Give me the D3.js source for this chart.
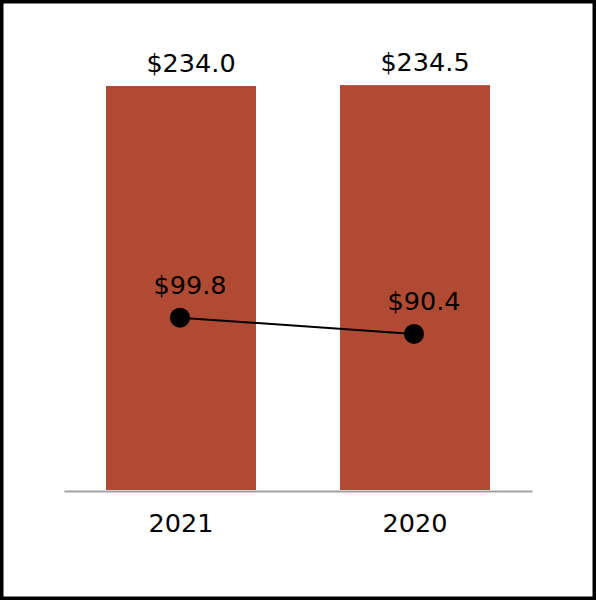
<!DOCTYPE html>
<html>
<head>
<meta charset="utf-8">
<script src="https://cdn.jsdelivr.net/npm/d3@7"></script>
<style>
  html, body { margin: 0; padding: 0; background: #fff; }
  svg { display: block; }
  text { font-family: "DejaVu Sans", sans-serif; fill: #000; }
</style>
</head>
<body>
<script>
const categories = ["2021", "2020"];
const barValues = [234.0, 234.5];
const lineValues = [99.8, 90.4];
const barLabels = ["$234.0", "$234.5"];
const lineLabels = ["$99.8", "$90.4"];

const W = 596, H = 600;
const FS = 25.5;
const svg = d3.select("body").append("svg").attr("width", W).attr("height", H);

svg.append("rect").attr("x", 1.75).attr("y", 1.75).attr("width", W - 3.5).attr("height", H - 3.5)
  .attr("fill", "#fff").attr("stroke", "#000").attr("stroke-width", 3.5);

const x = d3.scaleBand().domain(categories).range([64, 532]).paddingInner(0.359).paddingOuter(0.1795);
const y = d3.scaleLinear().domain([0, 250]).range([490, 490 - 250 * (404 / 234)]);

const data = categories.map((c, i) => ({ c, bar: barValues[i], line: lineValues[i], bl: barLabels[i], ll: lineLabels[i] }));

svg.selectAll("rect.bar").data(data).enter().append("rect").attr("class", "bar")
  .attr("x", d => x(d.c)).attr("width", x.bandwidth())
  .attr("y", d => y(d.bar)).attr("height", d => y(0) - y(d.bar))
  .attr("fill", "#B04A33");

// axis
const xAxis = d3.axisBottom(x).tickSize(0).tickPadding(23);
const ax = svg.append("g").attr("transform", "translate(0,491)").call(xAxis);
ax.select(".domain").attr("stroke", "#a0a0a0").attr("stroke-width", 2);
ax.selectAll("text").attr("font-size", FS).attr("font-family", "DejaVu Sans").attr("fill", "#000");

svg.selectAll("text.bl").data(data).enter().append("text").attr("class", "bl")
  .attr("x", d => x(d.c) + x.bandwidth() / 2 + 10).attr("y", d => y(d.bar) - 14)
  .attr("text-anchor", "middle").attr("font-size", FS).text(d => d.bl);

const line = d3.line().x(d => x(d.c) + x.bandwidth() / 2 - 1).y(d => y(d.line));
svg.append("path").datum(data).attr("d", line).attr("fill", "none").attr("stroke", "#000").attr("stroke-width", 2);

svg.selectAll("circle.pt").data(data).enter().append("circle").attr("class", "pt")
  .attr("cx", d => x(d.c) + x.bandwidth() / 2 - 1).attr("cy", d => y(d.line)).attr("r", 10).attr("fill", "#000");

svg.selectAll("text.ll").data(data).enter().append("text").attr("class", "ll")
  .attr("x", d => x(d.c) + x.bandwidth() / 2 + 9).attr("y", d => y(d.line) - 24)
  .attr("text-anchor", "middle").attr("font-size", FS).text(d => d.ll);
</script>
</body>
</html>
